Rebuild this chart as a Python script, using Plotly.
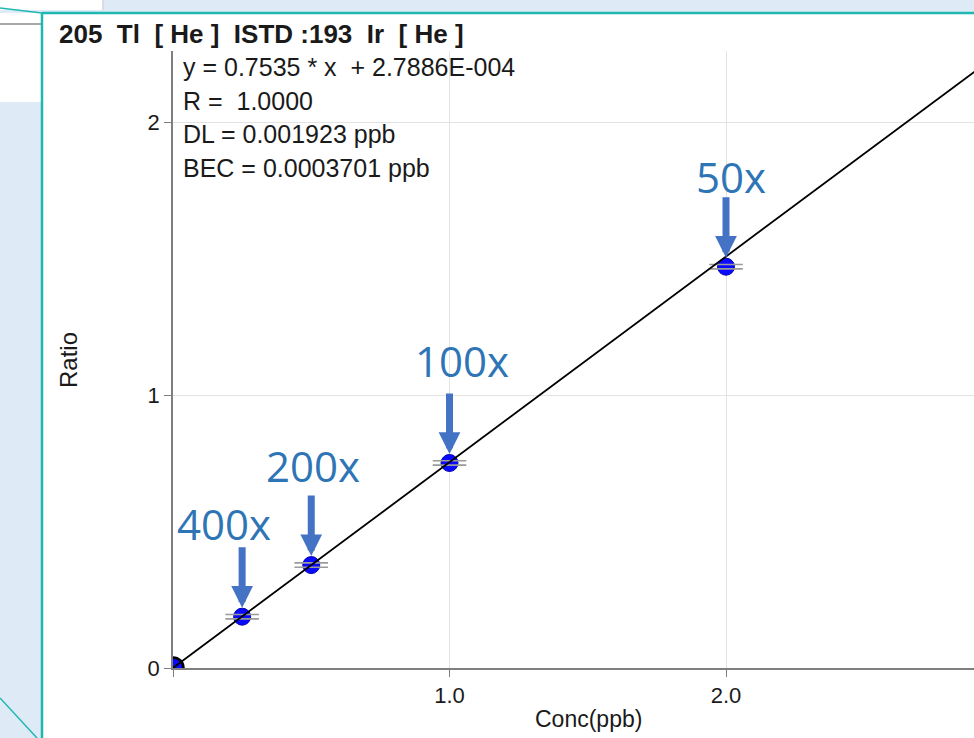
import plotly.graph_objects as go

# ---------------- data ----------------
conc_ppb = [0.0, 0.25, 0.5, 1.0, 2.0]
ratio = [0.0003, 0.188, 0.377, 0.751, 1.470]
dilution_labels = ["", "400x", "200x", "100x", "50x"]
slope = 0.7535
intercept = 2.7886e-4
fit_x = [0.0, 3.0]
x_ticks = [0.0, 1.0, 2.0]
x_tick_text = ["", "1.0", "2.0"]
y_ticks = [0, 1, 2]
y_tick_text = ["0", "1", "2"]
title_text = "205\u00a0 Tl\u00a0 [ He ]\u00a0 ISTD :193\u00a0 Ir\u00a0 [ He ]"
stats_lines = ["y = 0.7535 * x\u00a0 + 2.7886E-004", "R =\u00a0 1.0000",
               "DL = 0.001923 ppb", "BEC = 0.0003701 ppb"]

# ---------------- layout helpers ----------------
W, H = 974, 738
def px(x):
    return x / W
def py(y):
    return 1 - y / H

label_shift = [(0, 0), (-18, 93), (2, 100), (12, 102), (5, 90)]

fig = go.Figure()

fig.add_trace(go.Scatter(
    x=conc_ppb, y=ratio, mode="markers",
    marker=dict(size=[21, 17, 17, 17, 17], color="#0a0aff", opacity=1,
                line=dict(color=["black"] + ["#0000b0"] * 4, width=[2.5, 1, 1, 1, 1])),
    cliponaxis=True, showlegend=False, hoverinfo="x+y"))

gap = 0.008
fig.add_trace(go.Scatter(
    x=conc_ppb[1:] + conc_ppb[1:],
    y=[v + gap for v in ratio[1:]] + [v - gap for v in ratio[1:]],
    mode="markers",
    marker=dict(symbol="line-ew", size=24, opacity=1, line=dict(color="#9a9a9a", width=1.6)),
    showlegend=False, hoverinfo="skip"))

fig.add_trace(go.Scatter(
    x=fit_x, y=[slope * v + intercept for v in fit_x], mode="lines",
    line=dict(color="black", width=1.8), showlegend=False, hoverinfo="skip"))

annotations = []
for xv, yv, lab, (dx, dy) in zip(conc_ppb, ratio, dilution_labels, label_shift):
    if not lab:
        continue
    annotations.append(dict(
        x=xv, y=yv, xref="x", yref="y", text="", showarrow=True,
        ax=0, ay=-71, arrowhead=2, arrowsize=0.62, arrowwidth=7,
        arrowcolor="#4472C4", standoff=9))
    annotations.append(dict(
        x=xv, y=yv, xref="x", yref="y", text=lab, showarrow=False,
        xshift=dx, yshift=dy, xanchor="center", yanchor="middle",
        font=dict(family="Open Sans", size=42, color="#2E75B6")))

annotations.append(dict(
    x=px(57), y=py(34), xref="paper", yref="paper", text="<b>" + title_text + "</b>",
    showarrow=False, xanchor="left", yanchor="middle",
    font=dict(family="Liberation Sans", size=26, color="#1a1a1a")))

for i, line in enumerate(stats_lines):
    annotations.append(dict(
        x=px(181), y=py(67 + 33.5 * i), xref="paper", yref="paper", text=line,
        showarrow=False, xanchor="left", yanchor="middle",
        font=dict(family="Liberation Sans", size=25, color="#1a1a1a")))

annotations.append(dict(
    x=px(68), y=py(360), xref="paper", yref="paper", text="Ratio",
    showarrow=False, textangle=-90, xanchor="center", yanchor="middle",
    font=dict(family="Liberation Sans", size=24, color="#1a1a1a")))
annotations.append(dict(
    x=px(588), y=py(719), xref="paper", yref="paper", text="Conc(ppb)",
    showarrow=False, xanchor="center", yanchor="middle",
    font=dict(family="Liberation Sans", size=23, color="#1a1a1a")))

teal = "#1fb8b0"
shapes = [
    dict(type="rect", xref="paper", yref="paper", x0=px(42), x1=1.0, y0=0, y1=py(13),
         fillcolor="white", line=dict(width=0), layer="below"),
    dict(type="rect", xref="paper", yref="paper", x0=0, x1=px(41), y0=py(102), y1=py(13),
         fillcolor="white", line=dict(width=0), layer="below"),
    dict(type="rect", xref="paper", yref="paper", x0=0, x1=px(102), y0=py(10), y1=1,
         fillcolor="white", line=dict(width=0), layer="below"),
    dict(type="line", xref="paper", yref="paper", x0=px(103), x1=px(103), y0=py(10), y1=1,
         line=dict(color="#cfcfcf", width=1), layer="below"),
    dict(type="line", xref="paper", yref="paper", x0=0, x1=px(41), y0=py(24), y1=py(24),
         line=dict(color="#8a8a8a", width=1.5), layer="below"),
    dict(type="line", xref="paper", yref="paper", x0=px(42), x1=1.0, y0=py(13), y1=py(13),
         line=dict(color=teal, width=2.5), layer="below"),
    dict(type="line", xref="paper", yref="paper", x0=0, x1=px(42), y0=py(8), y1=py(13),
         line=dict(color=teal, width=1.5), layer="below"),
    dict(type="line", xref="paper", yref="paper", x0=px(42), x1=px(42), y0=0, y1=py(13),
         line=dict(color=teal, width=2.5), layer="below"),
    dict(type="line", xref="paper", yref="paper", x0=0, x1=px(37), y0=py(698), y1=0,
         line=dict(color=teal, width=1.5), layer="below"),
]

axis_common = dict(
    showline=True, linecolor="#7f7f7f", linewidth=1.5,
    ticks="outside", ticklen=7, tickcolor="#7f7f7f", tickwidth=1.2,
    showgrid=True, gridcolor="#e3e3e3", gridwidth=1, zeroline=False,
    automargin=False,
    tickfont=dict(family="Liberation Sans", size=22, color="#1a1a1a"))

fig.update_layout(
    width=W, height=H, autosize=False,
    margin=dict(l=0, r=0, t=0, b=0, pad=0),
    paper_bgcolor="#deebf7",
    plot_bgcolor="white",
    showlegend=False,
    annotations=annotations,
    shapes=shapes,
    xaxis=dict(domain=[px(173), 1.0], range=[0, (974 - 173) / 276.5],
               tickvals=x_ticks, ticktext=x_tick_text, **axis_common),
    yaxis=dict(domain=[py(668), py(51)], range=[0, (668 - 51) / 273.0],
               tickvals=y_ticks, ticktext=y_tick_text, **axis_common),
)

fig.write_html("out.html", config={"displayModeBar": False},
               post_script="document.body.style.margin='0';document.body.style.overflow='hidden';")
